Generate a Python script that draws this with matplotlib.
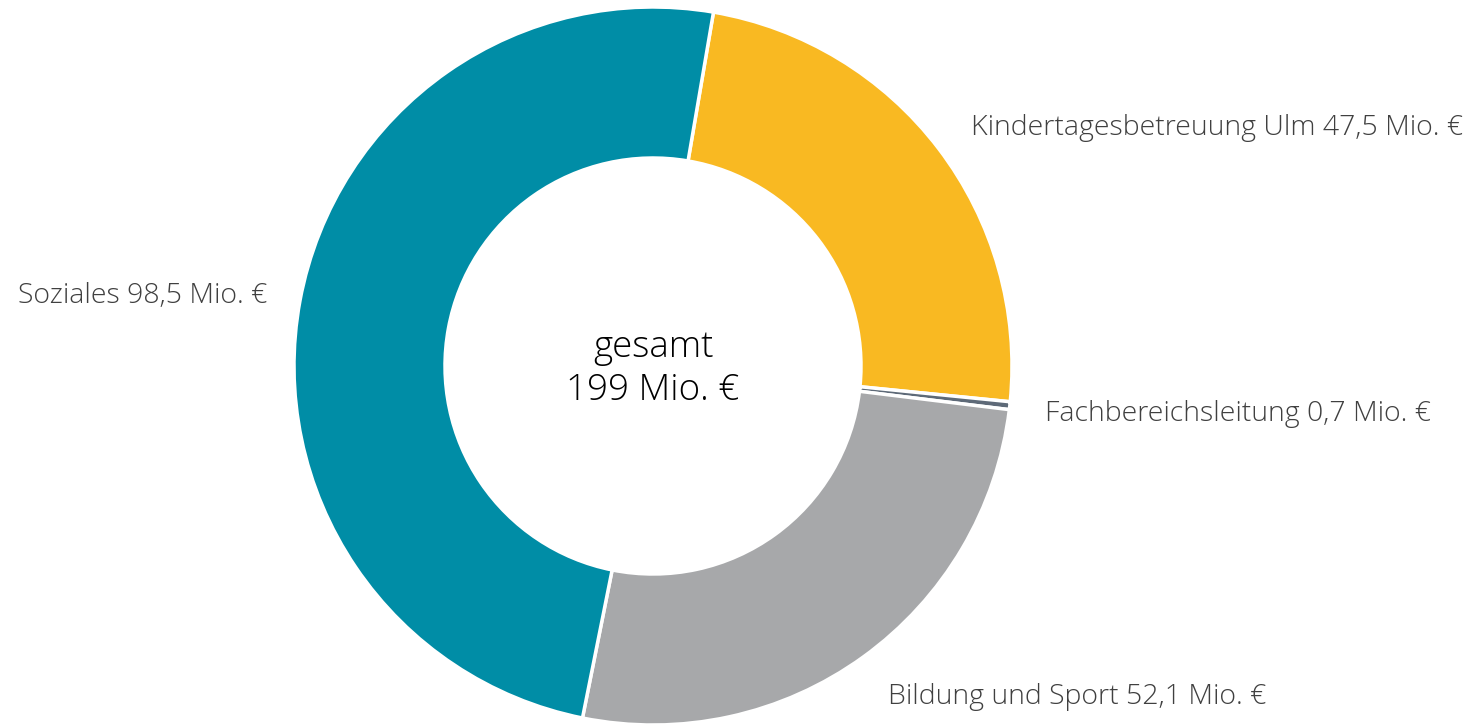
import matplotlib.pyplot as plt

categories = ['Kindertagesbetreuung Ulm', 'Fachbereichsleitung', 'Bildung und Sport', 'Soziales']
values = [47.5, 0.7, 52.1, 98.5]
value_labels = ['47,5', '0,7', '52,1', '98,5']
total_label = '199 Mio. €'
colors = ['#F9B922', '#5E6A78', '#A7A8AA', '#008DA6']

plt.rcParams['font.family'] = ['Open Sans', 'DejaVu Sans']

fig = plt.figure(figsize=(14.73, 7.27), dpi=100)
ax = fig.add_axes([0, 0, 1, 1])

cx, cy = 653, 727 - 366
wedges, _ = ax.pie(values, colors=colors, startangle=80.3, counterclock=False,
                   center=(cx, cy), radius=359, frame=True,
                   wedgeprops=dict(width=151, edgecolor='white', linewidth=2.5))
ax.set_xlim(0, 1473)
ax.set_ylim(0, 727)
ax.set_aspect('equal')
ax.axis('off')

# label positions (pixels from top-left)
pos = [(1463, 128, 'right'), (1045, 414, 'left'), (888, 697, 'left'), (18, 296, 'left')]
for (x, y, ha), cat, v in zip(pos, categories, value_labels):
    ax.text(x, 727 - y, f'{cat} {v} Mio. €', ha=ha, va='center',
            fontsize=20.5, color='#404040', fontweight='light')

ax.text(cx, 727 - 347, 'gesamt', ha='center', va='center', fontsize=26.5, color='black', fontweight='light')
ax.text(cx, 727 - 390, total_label, ha='center', va='center', fontsize=26.5, color='black', fontweight='light')

fig.savefig('out.png', dpi=100)
